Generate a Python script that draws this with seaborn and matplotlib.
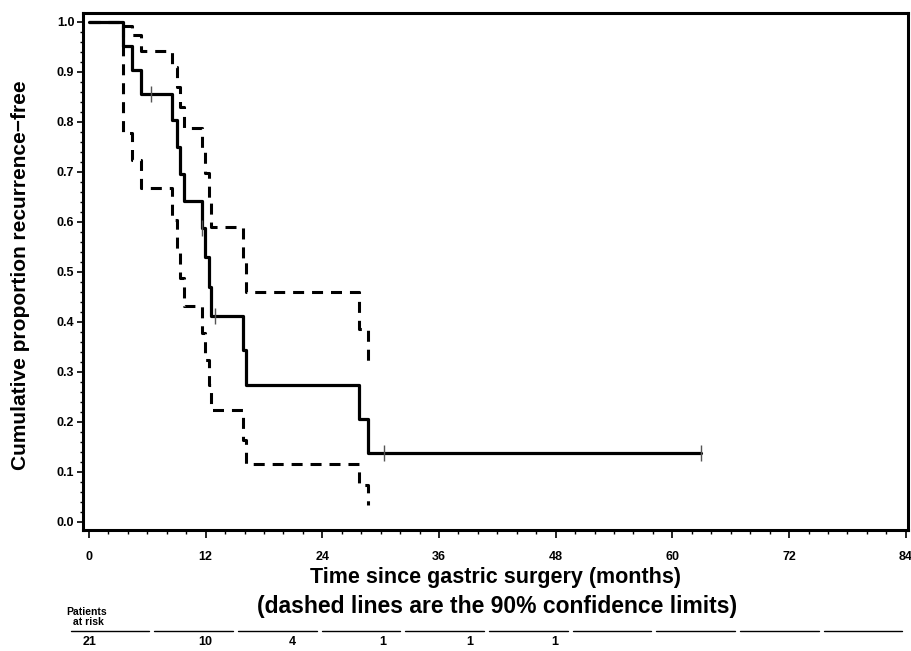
import numpy as np
import pandas as pd
import matplotlib
matplotlib.use("Agg")
import matplotlib.pyplot as plt
import seaborn as sns
from matplotlib.ticker import MultipleLocator, FixedLocator

# ---------------- data ----------------
time_km = [0, 3.53, 4.45, 5.32, 8.57, 9.02, 9.36, 9.77, 11.59, 11.93,
           12.38, 12.55, 15.81, 16.15, 27.78, 28.73, 62.96]
surv_km = [1.0, 0.952, 0.905, 0.857, 0.804, 0.750, 0.696, 0.643, 0.589, 0.530,
           0.471, 0.412, 0.344, 0.275, 0.206, 0.138, 0.138]
time_ci = [0, 3.53, 4.45, 5.32, 8.57, 9.02, 9.36, 9.77, 11.59, 11.93,
           12.38, 12.55, 15.81, 16.15, 27.78, 28.73]
upper_ci = [1.0, 0.992, 0.975, 0.942, 0.910, 0.870, 0.830, 0.789, 0.745, 0.698,
            0.645, 0.590, 0.527, 0.461, 0.387, 0.314]
lower_ci = [1.0, 0.778, 0.724, 0.669, 0.604, 0.540, 0.488, 0.432, 0.378, 0.324,
            0.275, 0.225, 0.164, 0.116, 0.074, 0.034]
censor_time = [6.35, 11.65, 12.96, 30.38, 62.96]
censor_surv = [0.857, 0.589, 0.412, 0.138, 0.138]

x_ticks = [0, 12, 24, 36, 48, 60, 72, 84]
y_ticks = [0.0, 0.1, 0.2, 0.3, 0.4, 0.5, 0.6, 0.7, 0.8, 0.9, 1.0]
y_tick_labels = ["0.0", "0.1", "0.2", "0.3", "0.4", "0.5", "0.6", "0.7", "0.8", "0.9", "1.0"]
risk_counts = ["21", "10", "4", "1", "1", "1"]
risk_cols = [0.26, 1.64, 2.68, 3.76, 4.80, 5.82]

xlabel1 = "Time since gastric surgery (months)"
xlabel2 = "(dashed lines are the 90% confidence limits)"
ylabel = "Cumulative proportion recurrence\u2212free"

# ---------------- style ----------------
sns.set_style("ticks")
plt.rcParams["font.family"] = ["Liberation Sans", "DejaVu Sans"]
plt.rcParams["font.weight"] = "bold"
plt.rcParams["text.color"] = "black"
plt.rcParams["axes.labelcolor"] = "black"
plt.rcParams["xtick.color"] = "black"
plt.rcParams["ytick.color"] = "black"

W, H = 912, 651
fig = plt.figure(figsize=(W / 100, H / 100), dpi=100)

def fx(px):
    return px / W

def fy(py):
    return 1 - py / H

left_px, right_px, top_px, bot_px = 82.7, 908.0, 13.3, 530.0
ax = fig.add_axes([fx(left_px), fy(bot_px), fx(right_px - left_px), (bot_px - top_px) / H])

km = pd.DataFrame({"time": time_km, "surv": surv_km})
ci = pd.DataFrame({"time": time_ci, "upper": upper_ci, "lower": lower_ci})

dash = (0, (3.6, 2.6))
sns.lineplot(data=ci, x="time", y="upper", drawstyle="steps-post", estimator=None,
             sort=False, color="black", lw=2.2, linestyle=dash, ax=ax)
sns.lineplot(data=ci, x="time", y="lower", drawstyle="steps-post", estimator=None,
             sort=False, color="black", lw=2.2, linestyle=dash, ax=ax)
sns.lineplot(data=km, x="time", y="surv", drawstyle="steps-post", estimator=None,
             sort=False, color="black", lw=2.3, ax=ax)
ax.plot(censor_time, censor_surv, linestyle="none", marker="|", ms=11, mew=1.0,
        color="#555555", zorder=5)

# axis scaling: 0 months at x=89px, 84 months at 905.7px; 1.0 at y=22px, 0.0 at y=522px
ax.set_xlim((left_px - 89) / 9.723, (right_px - 89) / 9.723)
ax.set_ylim((522 - bot_px) / 500, (522 - top_px) / 500)

ax.xaxis.set_major_locator(FixedLocator(x_ticks))
ax.xaxis.set_minor_locator(MultipleLocator(2))
ax.yaxis.set_major_locator(FixedLocator(y_ticks))
ax.yaxis.set_minor_locator(MultipleLocator(0.02))
ax.set_yticklabels(y_tick_labels)
ax.set_xticklabels([str(t) for t in x_ticks])
ax.tick_params(axis="x", which="major", length=6, width=1.2, direction="out", labelsize=9, pad=9)
ax.tick_params(axis="x", which="minor", length=3, width=1.0, direction="out")
ax.tick_params(axis="y", which="major", length=4, width=1.2, direction="out", labelsize=9, pad=2)
ax.tick_params(axis="y", which="minor", length=2.5, width=1.0, direction="out")
for lab in ax.get_xticklabels() + ax.get_yticklabels():
    lab.set_fontweight("bold")
    lab.set_color("black")
for sp in ax.spines.values():
    sp.set_visible(True)
    sp.set_linewidth(2.2)
    sp.set_color("black")
ax.set_xlabel("")
ax.set_ylabel("")

# axis titles
fig.text(fx(21), fy(275), ylabel, rotation=90, ha="center", va="center",
         fontsize=15, fontweight="bold", color="black")
fig.text(fx(496), fy(578), xlabel1, ha="center", va="center", fontsize=15.5,
         fontweight="bold", color="black")
fig.text(fx(497), fy(606), xlabel2, ha="center", va="center", fontsize=16.5,
         fontweight="bold", color="black")

# at-risk table
tab = fig.add_axes([fx(68), 0, fx(905 - 68), fy(600)])
tab.set_xlim(0, 10)
tab.set_ylim(651, 600)
tab.axis("off")
tab.text(0.22, 612, "Patients", ha="center", va="center", fontsize=7.5,
         fontweight="bold", color="black")
tab.text(0.24, 622, "at risk", ha="center", va="center", fontsize=7.5,
         fontweight="bold", color="black")
for i in range(10):
    tab.plot([i + 0.03, i + 0.97], [631, 631], color="black", lw=1.0)
for xc, n in zip(risk_cols, risk_counts):
    tab.text(xc, 642, n, ha="center", va="center", fontsize=9, fontweight="bold",
             color="black")

fig.savefig("out.png", dpi=100)
